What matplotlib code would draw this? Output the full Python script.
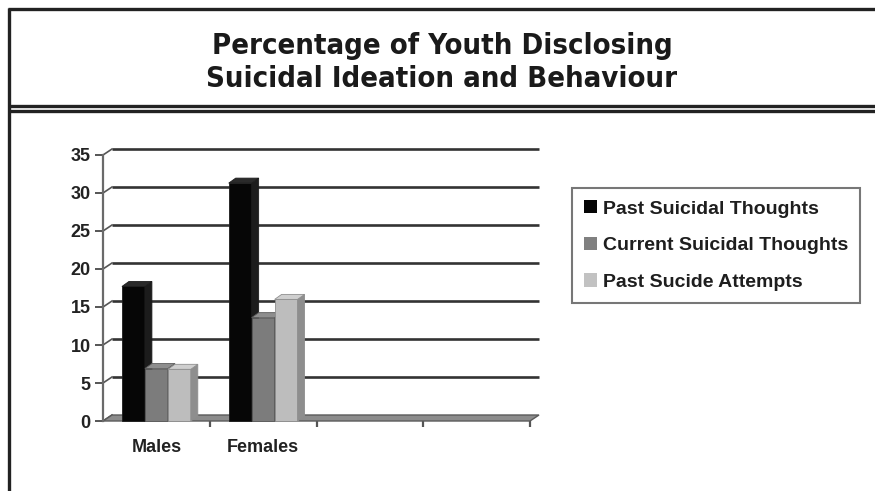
import matplotlib
matplotlib.use("Agg")
import matplotlib.pyplot as plt
from matplotlib.patches import Polygon, Patch
from matplotlib.lines import Line2D
import numpy as np

# ---------------- data ----------------
title_lines = ["Percentage of Youth Disclosing", "Suicidal Ideation and Behaviour"]
categories = ["Males", "Females"]
n_slots = 4
series_names = ["Past Suicidal Thoughts", "Current Suicidal Thoughts", "Past Sucide Attempts"]
past_thoughts = [17.7, 31.3]
current_thoughts = [6.9, 13.6]
past_attempts = [6.8, 16.0]
yticks = [0, 5, 10, 15, 20, 25, 30, 35]

# ---------------- styles ----------------
W, H = 875, 491
front_cols = ["#060606", "#7c7c7c", "#bdbdbd"]
side_cols = ["#1c1c1c", "#5a5a5a", "#8e8e8e"]
top_cols = ["#2a2a2a", "#8e8e8e", "#cfcfcf"]
legend_cols = ["#050505", "#808080", "#c2c2c2"]

fig = plt.figure(figsize=(W / 100, H / 100), dpi=100)
fig.patch.set_facecolor("white")


def fx(px):
    return px / W


def fy(py):
    return 1 - py / H


# ---------------- frame ----------------
fc = "#222222"
def fline(xs, ys, lw=2.4):
    fig.add_artist(Line2D([fx(x) for x in xs], [fy(y) for y in ys],
                          transform=fig.transFigure, color=fc, lw=lw,
                          solid_capstyle="butt"))

fline([8.5, 8.5], [8, 492])
fline([7.5, 880], [9, 9])
fline([7.5, 880], [106, 106])
fline([7.5, 880], [110.5, 110.5])

title_font = ["DejaVu Sans"]
fig.text(fx(442), fy(46), title_lines[0], ha="center", va="center",
         fontsize=21, fontweight="bold", fontstretch="condensed",
         family=title_font, color="#1a1a1a")
fig.text(fx(442), fy(79), title_lines[1], ha="center", va="center",
         fontsize=21, fontweight="bold", fontstretch="condensed",
         family=title_font, color="#1a1a1a")

# ---------------- axes ----------------
ax_l, ax_r, ax_t, ax_b = 103, 530, 155, 421
ax = fig.add_axes([fx(ax_l), fy(ax_b), (ax_r - ax_l) / W, (ax_b - ax_t) / H])
ax.set_xlim(0, n_slots)
ax.set_ylim(0, 35)
ax.set_facecolor("none")
for s in ["top", "right", "bottom"]:
    ax.spines[s].set_visible(False)
ax.spines["left"].set_color("#6a6a6a")
ax.spines["left"].set_linewidth(1.6)

px_per_x = (ax_r - ax_l) / n_slots
px_per_y = (ax_b - ax_t) / 35.0
# wall depth
dxw, dyw = 9 / px_per_x, 6 / px_per_y
# bar depth
dxb, dyb = 7 / px_per_x, 5 / px_per_y

tick_font = dict(fontsize=13, fontweight="bold", family=["Liberation Sans", "DejaVu Sans"])
ax.set_yticks(yticks)
ax.set_yticklabels([str(v) for v in yticks], **tick_font, color="#222222")
ax.tick_params(axis="y", length=6, width=1.4, color="#555555", pad=3)

ax.set_xticks(np.arange(len(categories)) + 0.5)
ax.set_xticklabels(categories, **tick_font, color="#222222")
ax.set_xticks(np.arange(1, n_slots + 1), minor=True)
ax.tick_params(axis="x", which="major", length=0, pad=13)
ax.tick_params(axis="x", which="minor", length=4, width=1.6, color="#555555")

# back-wall gridlines and connectors
for y in yticks[1:]:
    ax.plot([dxw, n_slots + dxw], [y + dyw, y + dyw], color="#333333", lw=1.9,
            zorder=1, clip_on=False, solid_capstyle="butt")
for y in yticks:
    ax.plot([0, dxw], [y, y + dyw], color="#555555", lw=1.2, zorder=1, clip_on=False)

# floor
floor = Polygon([(0, 0), (n_slots, 0), (n_slots + dxw, dyw), (dxw, dyw)],
                closed=True, facecolor="#8c8c8c", edgecolor="#5a5a5a", lw=1.0,
                zorder=2, clip_on=False)
ax.add_patch(floor)

# ---------------- bars ----------------
series = [past_thoughts, current_thoughts, past_attempts]
bw = 0.215
centers = np.arange(len(categories)) + 0.5
for i, vals in enumerate(series):
    xs = centers + (i - 1) * bw
    z = 3 + i
    bars = ax.bar(xs, vals, width=bw, color=front_cols[i], edgecolor=side_cols[i],
                  lw=0.6, zorder=z, clip_on=False)
    for rect in bars:
        x0 = rect.get_x()
        x1 = x0 + rect.get_width()
        h = rect.get_height()
        side = Polygon([(x1, 0), (x1 + dxb, dyb), (x1 + dxb, h + dyb), (x1, h)],
                       closed=True, facecolor=side_cols[i], edgecolor=side_cols[i],
                       lw=0.6, zorder=z, clip_on=False)
        top = Polygon([(x0, h), (x1, h), (x1 + dxb, h + dyb), (x0 + dxb, h + dyb)],
                      closed=True, facecolor=top_cols[i], edgecolor=side_cols[i],
                      lw=0.6, zorder=z, clip_on=False)
        ax.add_patch(side)
        ax.add_patch(top)

# ---------------- legend ----------------
handles = [Patch(facecolor=c, edgecolor="none") for c in legend_cols]
leg = fig.legend(handles, series_names, loc="upper left",
                 bbox_to_anchor=(fx(572), fy(188)), bbox_transform=fig.transFigure,
                 borderaxespad=0, frameon=True, fancybox=False, edgecolor="#555555",
                 prop=dict(weight="bold", size=14, family=["Liberation Sans", "DejaVu Sans"]),
                 handlelength=0.68, handleheight=0.68, handletextpad=0.3,
                 labelspacing=0.98, borderpad=0.62)
leg.get_frame().set_linewidth(1.5)
for t in leg.get_texts():
    t.set_color("#1e1e1e")

fig.savefig("out.png", dpi=100)
